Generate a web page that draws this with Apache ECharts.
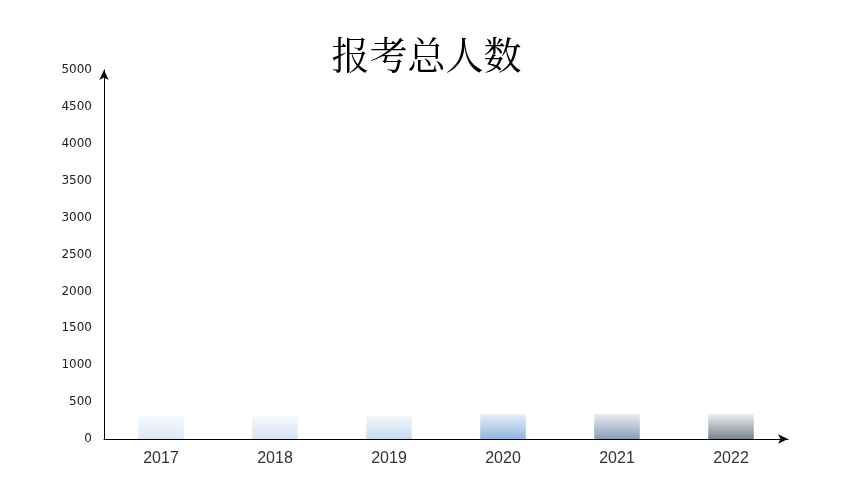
<!DOCTYPE html>
<html>
<head>
<meta charset="utf-8">
<script src="https://cdn.jsdelivr.net/npm/echarts@6/dist/echarts.min.js"></script>
<style>
html,body{margin:0;padding:0;background:#fff;}
#main{width:853px;height:480px;}
</style>
</head>
<body>
<div id="main"></div>
<script>
const categories = ['2017','2018','2019','2020','2021','2022'];
const values = [305, 310, 318, 335, 338, 342];
const yTicks = [0,500,1000,1500,2000,2500,3000,3500,4000,4500,5000];

const gradients = [
  ['#f3f8fd','#dde9f6'],
  ['#f7fafd','#d4e3f3'],
  ['#f4f8fc','#c6daef'],
  ['#e6eef8','#93b6de'],
  ['#e8ecf1','#8aa0b8'],
  ['#f0f0f1','#7b838c']
];

const chart = echarts.init(document.getElementById('main'));
chart.setOption({
  backgroundColor: '#fff',
  animation: false,
  title: {
    text: '报考总人数',
    left: 'center',
    top: 31,
    textStyle: {
      fontFamily: '"Noto Serif CJK SC", "AR PL UKai CN", serif',
      fontSize: 38,
      fontWeight: 'normal',
      color: '#000'
    }
  },
  grid: { left: 104, right: 65, top: 70, bottom: 41 },
  xAxis: {
    type: 'category',
    data: categories,
    axisLine: { lineStyle: { color: '#000', width: 1 }, symbol: ['none','arrow'], symbolSize: [7, 10] },
    axisTick: { show: false },
    axisLabel: { color: '#333', fontSize: 16, margin: 12, fontFamily: 'Liberation Sans, sans-serif' }
  },
  yAxis: {
    type: 'value',
    min: yTicks[0],
    max: yTicks[yTicks.length - 1],
    interval: yTicks[1] - yTicks[0],
    axisLine: { show: true, lineStyle: { color: '#000', width: 1 }, symbol: ['none','arrow'], symbolSize: [7, 10] },
    axisTick: { show: false },
    splitLine: { show: false },
    axisLabel: {
      color: '#222', fontSize: 12, margin: 12, fontFamily: 'DejaVu Sans, sans-serif',
      formatter: v => String(v)
    }
  },
  series: [{
    type: 'bar',
    barWidth: '40%',
    data: values.map((v, i) => ({
      value: v,
      itemStyle: {
        color: new echarts.graphic.LinearGradient(0, 0, 0, 1, [
          { offset: 0, color: gradients[i][0] },
          { offset: 1, color: gradients[i][1] }
        ])
      }
    }))
  }]
});
</script>
</body>
</html>
